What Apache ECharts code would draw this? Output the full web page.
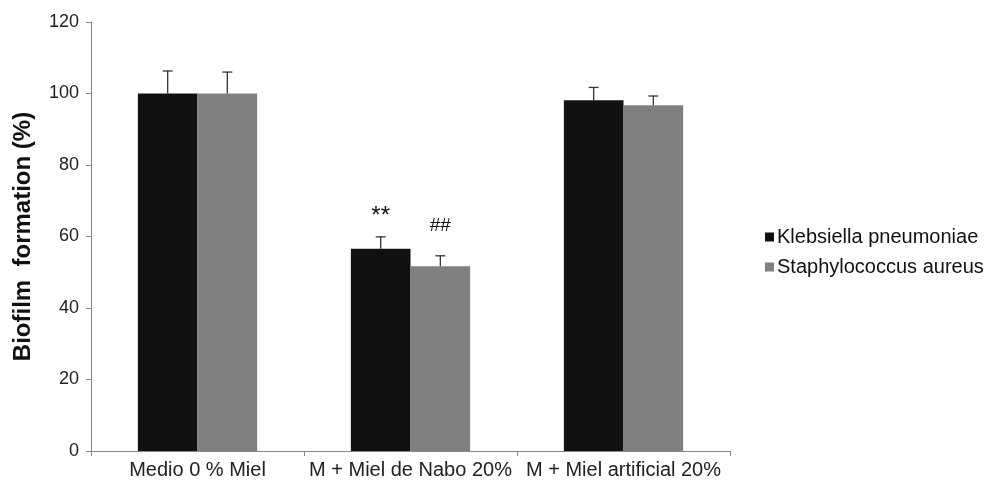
<!DOCTYPE html>
<html><head><meta charset="utf-8">
<script src="https://cdn.jsdelivr.net/npm/echarts@6/dist/echarts.min.js"></script>
<style>html,body{margin:0;padding:0;background:#fff}#c{width:987px;height:484px}</style>
</head><body><div id="c"></div>
<script>
const categories = ['Medio 0 % Miel', 'M + Miel de Nabo 20%', 'M + Miel artificial 20%'];
const seriesNames = ['Klebsiella pneumoniae', 'Staphylococcus aureus'];
const klebsiella = [100, 56.6, 98.1];
const klebsiellaErr = [6.3, 3.3, 3.6];
const staphylococcus = [100, 51.7, 96.7];
const staphylococcusErr = [6.0, 2.9, 2.6];
const klebsiellaMarks = ['', '**', ''];
const staphylococcusMarks = ['', '##', ''];
const yTicks = [0, 20, 40, 60, 80, 100, 120];

const gapPct = 0.44;
const colors = ['#111111', '#808080'];
const font = '"Liberation Sans", Arial, sans-serif';

function errSeries(vals, errs, idx) {
  return {
    type: 'custom', name: seriesNames[idx] + ' err', z: 5, silent: true,
    renderItem: function (params, api) {
      const i = api.value(0);
      const v = api.value(1), e = api.value(2);
      const band = api.size([1, 0])[0];
      const bw = band * (1 - gapPct) / 2;
      const c = api.coord([i, v]);
      const x = c[0] + (idx === 0 ? -bw / 2 : bw / 2);
      const top = api.coord([i, v + e])[1];
      const st = {stroke: '#333', lineWidth: 1.3};
      return {type: 'group', children: [
        {type: 'line', shape: {x1: x, y1: c[1], x2: x, y2: top}, style: st},
        {type: 'line', shape: {x1: x - 5, y1: top, x2: x + 5, y2: top}, style: st}
      ]};
    },
    data: vals.map((v, i) => [i, v, errs[i]])
  };
}

function marks(vals, errs, labels, idx, dy, size) {
  return {
    type: 'custom', name: seriesNames[idx] + ' mark', z: 6, silent: true,
    renderItem: function (params, api) {
      const i = api.value(0);
      const band = api.size([1, 0])[0];
      const bw = band * (1 - gapPct) / 2;
      const c = api.coord([i, api.value(1)]);
      const x = c[0] + (idx === 0 ? -bw / 2 : bw / 2);
      const t = labels[i];
      if (!t) return null;
      return {type: 'text', style: {text: t, x: x, y: c[1] - dy, align: 'center', verticalAlign: 'middle',
        font: size + 'px ' + font, fill: '#111'}};
    },
    data: vals.map((v, i) => [i, v + errs[i]])
  };
}

const chart = echarts.init(document.getElementById('c'));
chart.setOption({
  animation: false,
  textStyle: {fontFamily: font},
  grid: {left: 91, right: 257, top: 22, bottom: 33, containLabel: false, outerBoundsMode: 'none'},
  legend: {
    orient: 'vertical', left: 760, top: 222, itemWidth: 9, itemHeight: 9, itemGap: 10,
    data: seriesNames, icon: 'rect',
    textStyle: {fontSize: 20, color: '#111', fontFamily: font, padding: [0, 0, 0, -2]}
  },
  xAxis: {
    type: 'category', data: categories,
    axisLine: {lineStyle: {color: '#888'}},
    axisTick: {show: true, length: 5, lineStyle: {color: '#888'}},
    axisLabel: {fontSize: 20, color: '#222', margin: 9, fontFamily: font, interval: 0}
  },
  yAxis: {
    type: 'value', min: 0, max: 120, interval: 20,
    name: 'Biofilm  formation (%)', nameLocation: 'middle', nameGap: 56,
    nameTextStyle: {fontSize: 24, fontWeight: 'bold', color: '#111', fontFamily: font},
    axisLine: {show: true, lineStyle: {color: '#888'}},
    axisTick: {show: true, length: 5, inside: false, lineStyle: {color: '#888'}},
    splitLine: {show: false},
    axisLabel: {fontSize: 18, color: '#222', margin: 12, fontFamily: font,
      formatter: v => yTicks.includes(v) ? String(v) : ''}
  },
  series: [
    {type: 'bar', name: seriesNames[0], data: klebsiella, barGap: '0%', barCategoryGap: (gapPct * 100) + '%',
      itemStyle: {color: colors[0]}},
    {type: 'bar', name: seriesNames[1], data: staphylococcus, barGap: '0%', barCategoryGap: (gapPct * 100) + '%',
      itemStyle: {color: colors[1]}},
    errSeries(klebsiella, klebsiellaErr, 0),
    errSeries(staphylococcus, staphylococcusErr, 1),
    marks(klebsiella, klebsiellaErr, klebsiellaMarks, 0, 20, 24),
    marks(staphylococcus, staphylococcusErr, staphylococcusMarks, 1, 30, 19)
  ]
});
</script></body></html>
